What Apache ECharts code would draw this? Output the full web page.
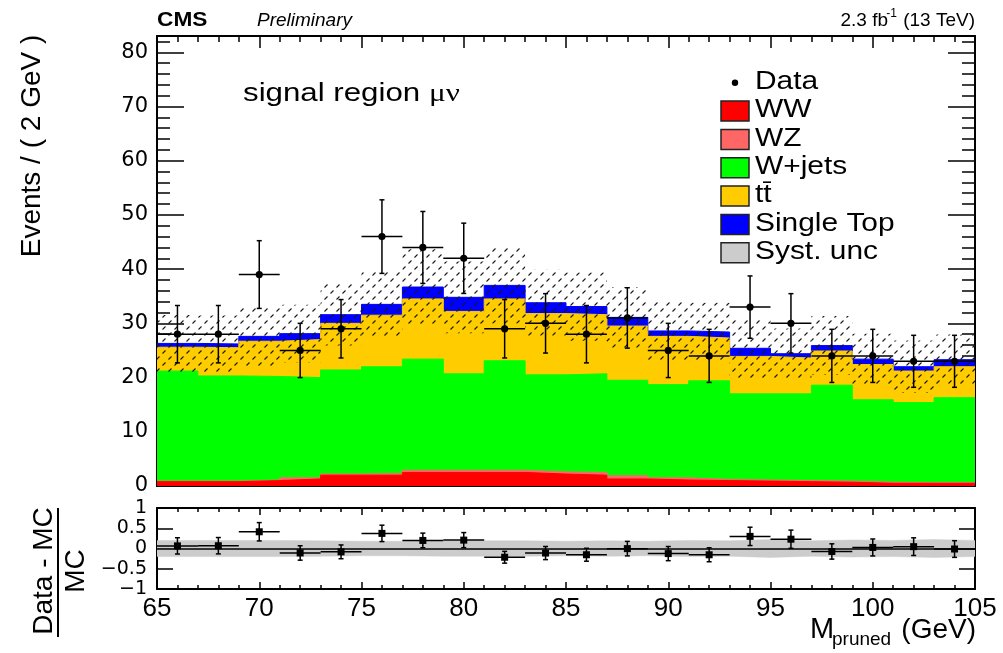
<!DOCTYPE html>
<html>
<head>
<meta charset="utf-8">
<script src="https://cdn.jsdelivr.net/npm/echarts@6/dist/echarts.min.js"></script>
<style>
  html, body { margin: 0; padding: 0; background: #fff; }
  #chart { width: 1003px; height: 653px; }
</style>
</head>
<body>
<div id="chart"></div>
<script>
// bins of M_pruned (GeV)
const binEdges = [65, 67, 69, 71, 73, 75, 77, 79, 81, 83, 85, 87, 89, 91, 93, 95, 97, 99, 101, 103, 105];

// observed events per bin
const dataCounts = [28, 28, 39, 25, 29, 46, 44, 42, 29, 30, 28, 31, 25, 24, 33, 30, 24, 24, 23, 23];

// MC backgrounds per bin
const wwYield = [0.8, 0.8, 1.0, 1.3, 2.0, 2.0, 2.5, 2.5, 2.5, 2.2, 2.0, 1.3, 1.1, 1.0, 0.9, 0.8, 0.7, 0.5, 0.5, 0.5];
const wzYield = [0.1, 0.1, 0.1, 0.2, 0.2, 0.3, 0.4, 0.4, 0.4, 0.4, 0.5, 0.6, 0.4, 0.2, 0.2, 0.2, 0.2, 0.2, 0.1, 0.1];
const wjetsYield = [20.3, 19.4, 19.1, 18.5, 19.2, 19.7, 20.5, 17.8, 20.2, 17.9, 18.2, 17.6, 17.2, 18.2, 15.9, 16.0, 17.7, 15.2, 14.8, 15.7];
const ttbarYield = [4.4, 5.2, 6.5, 7.0, 8.6, 9.5, 11.1, 11.5, 11.4, 11.3, 10.9, 10.0, 8.9, 7.9, 6.9, 6.6, 6.3, 6.5, 5.8, 5.7];
const singleTopYield = [0.7, 0.7, 0.9, 1.1, 1.6, 2.0, 2.2, 2.6, 2.5, 2.0, 1.5, 1.6, 1.0, 1.1, 1.5, 0.8, 1.0, 1.0, 0.8, 1.3];

// relative systematic uncertainty of the total MC
const systRel = [0.20, 0.20, 0.20, 0.19, 0.18, 0.18, 0.19, 0.19, 0.19, 0.18, 0.19, 0.18, 0.20, 0.19, 0.22, 0.19, 0.21, 0.20, 0.22, 0.20];

const legendLabels = ['WW', 'WZ', 'W+jets', 'tt\u0304', 'Single Top', 'Syst. unc'];
const legendColors = ['#ff0000', '#ff6666', '#00ff00', '#ffcc00', '#0000ff', '#cccccc'];

// ---- derived ----
const nBins = dataCounts.length;
const binCenters = binEdges.slice(0, -1).map((e, i) => (e + binEdges[i + 1]) / 2);

const layers = [wwYield, wzYield, wjetsYield, ttbarYield, singleTopYield];
const cumulative = [];
let running = new Array(nBins).fill(0);
layers.forEach((l) => {
  running = running.map((v, i) => v + l[i]);
  cumulative.push(running.slice());
});
const mcTotal = cumulative[cumulative.length - 1];

const stepPoints = (vals) => binEdges.map((e, i) => [e, vals[Math.min(i, vals.length - 1)]]);

// hatch pattern for the syst band
const hatch = document.createElement('canvas');
hatch.width = 12;
hatch.height = 12;
{
  const ctx = hatch.getContext('2d');
  ctx.strokeStyle = '#1a1a1a';
  ctx.lineWidth = 1.1;
  ctx.beginPath();
  ctx.moveTo(0.5, 11.5); ctx.lineTo(3.5, 8.5);
  ctx.moveTo(6.5, 5.5); ctx.lineTo(9.5, 2.5);
  ctx.stroke();
}

const FONT = 'Liberation Sans, Arial, Helvetica, sans-serif';
const BLACK = '#000';

function areaSeries(name, vals, color) {
  return {
    name, type: 'line', xAxisIndex: 0, yAxisIndex: 0, step: 'end',
    data: stepPoints(vals), symbol: 'none', showSymbol: false,
    lineStyle: { color, width: 1 }, itemStyle: { color },
    areaStyle: { color, opacity: 1 }, z: 1, silent: true,
  };
}

// points with x/y error bars
function errorRender(marker) {
  return (params, api) => {
    const x = api.value(0), y = api.value(1), e = api.value(2);
    const lo = api.value(3), hi = api.value(4);
    const c = api.coord([x, y]);
    const l = api.coord([lo, y]), r = api.coord([hi, y]);
    const t = api.coord([x, y + e]), b = api.coord([x, y - e]);
    const ls = { stroke: BLACK, lineWidth: 1.5 };
    const cap = 2.5;
    const children = [
      { type: 'line', shape: { x1: l[0], y1: c[1], x2: r[0], y2: c[1] }, style: ls },
      { type: 'line', shape: { x1: c[0], y1: t[1], x2: c[0], y2: b[1] }, style: ls },
      { type: 'line', shape: { x1: c[0] - cap, y1: t[1], x2: c[0] + cap, y2: t[1] }, style: ls },
      { type: 'line', shape: { x1: c[0] - cap, y1: b[1], x2: c[0] + cap, y2: b[1] }, style: ls },
    ];
    if (marker === 'circle') {
      children.push({ type: 'circle', shape: { cx: c[0], cy: c[1], r: 3.6 }, style: { fill: BLACK } });
    } else {
      children.push({ type: 'rect', shape: { x: c[0] - 3.5, y: c[1] - 3.5, width: 7, height: 7 }, style: { fill: BLACK } });
    }
    return { type: 'group', children };
  };
}

const tickStyle = { color: BLACK, width: 1.5 };
const lineStyle = { color: BLACK, width: 2 };

function xAxis(grid, position, labels, major, minor) {
  return {
    gridIndex: grid, type: 'value', position, min: 65, max: 105, interval: 5,
    axisLine: { onZero: false, lineStyle },
    axisTick: { inside: true, length: major, lineStyle: tickStyle },
    minorTick: { show: true, splitNumber: 5, length: minor, lineStyle: tickStyle },
    axisLabel: labels
      ? { show: true, fontFamily: 'Liberation Sans Narrow, ' + FONT, fontSize: 26, color: BLACK, margin: 7 }
      : { show: false },
    splitLine: { show: false },
  };
}

const chart = echarts.init(document.getElementById('chart'), null, { renderer: 'canvas' });

const ratioVals = binCenters.map((c, i) => [
  c, dataCounts[i] / mcTotal[i] - 1, Math.sqrt(dataCounts[i]) / mcTotal[i], binEdges[i], binEdges[i + 1],
]);

const rowY = (i) => 82.7 + 28.35 * i;

const option = {
  animation: false,
  backgroundColor: '#fff',
  grid: [
    { left: 157, top: 36, width: 818, height: 450, outerBoundsMode: 'none' },
    { left: 157, top: 508, width: 818, height: 81, outerBoundsMode: 'none' },
  ],
  xAxis: [
    xAxis(0, 'bottom', false, 12, 6),
    xAxis(0, 'top', false, 12, 6),
    xAxis(1, 'bottom', true, 7, 4),
    xAxis(1, 'top', false, 7, 4),
  ],
  yAxis: [
    {
      gridIndex: 0, type: 'value', position: 'left', min: 0, max: 83, interval: 10,
      axisLine: { onZero: false, lineStyle },
      axisTick: { inside: true, length: 27, lineStyle: tickStyle },
      minorTick: { show: true, splitNumber: 5, length: 13, lineStyle: tickStyle },
      axisLabel: {
        fontFamily: 'DejaVu Sans', fontSize: 21, color: BLACK, margin: 9,
        formatter: (v) => (v % 10 === 0 ? String(v) : ''),
      },
      splitLine: { show: false },
    },
    {
      gridIndex: 0, type: 'value', position: 'right', min: 0, max: 83, interval: 10,
      axisLine: { onZero: false, lineStyle },
      axisTick: { inside: true, length: 27, lineStyle: tickStyle },
      minorTick: { show: true, splitNumber: 5, length: 13, lineStyle: tickStyle },
      axisLabel: { show: false },
      splitLine: { show: false },
    },
    {
      gridIndex: 1, type: 'value', position: 'left', min: -1, max: 1, interval: 0.5,
      axisLine: { onZero: false, lineStyle },
      axisTick: { inside: true, length: 16, lineStyle: tickStyle },
      axisLabel: {
        fontFamily: 'DejaVu Sans', fontSize: 19, color: BLACK, margin: 10,
        formatter: (v) => (v < 0 ? '\u2212' + Math.abs(v) : String(v)),
      },
      splitLine: { show: false },
    },
    {
      gridIndex: 1, type: 'value', position: 'right', min: -1, max: 1, interval: 0.5,
      axisLine: { onZero: false, lineStyle },
      axisTick: { inside: true, length: 16, lineStyle: tickStyle },
      axisLabel: { show: false },
      splitLine: { show: false },
    },
  ],
  series: [
    areaSeries('Single Top', cumulative[4], legendColors[4]),
    areaSeries('tt\u0304', cumulative[3], legendColors[3]),
    areaSeries('W+jets', cumulative[2], legendColors[2]),
    areaSeries('WZ', cumulative[1], legendColors[1]),
    areaSeries('WW', cumulative[0], legendColors[0]),
    {
      name: 'Syst. unc', type: 'custom', xAxisIndex: 0, yAxisIndex: 0, z: 3, silent: true,
      encode: { x: [0, 1], y: [2, 3] },
      data: binCenters.map((c, i) => [binEdges[i], binEdges[i + 1], mcTotal[i] * (1 - systRel[i]), mcTotal[i] * (1 + systRel[i])]),
      renderItem: (params, api) => {
        const p0 = api.coord([api.value(0), api.value(3)]);
        const p1 = api.coord([api.value(1), api.value(2)]);
        return {
          type: 'rect',
          shape: { x: p0[0], y: p0[1], width: p1[0] - p0[0], height: p1[1] - p0[1] },
          style: { fill: { image: hatch, repeat: 'repeat' } },
        };
      },
    },
    {
      name: 'Data', type: 'custom', xAxisIndex: 0, yAxisIndex: 0, z: 5, silent: true,
      encode: { x: 0, y: 1 },
      data: binCenters.map((c, i) => [c, dataCounts[i], Math.sqrt(dataCounts[i]), binEdges[i], binEdges[i + 1]]),
      renderItem: errorRender('circle'),
    },
    // ratio panel: syst band (fills to 0 from both sides)
    {
      name: 'Syst. unc', type: 'line', xAxisIndex: 2, yAxisIndex: 2, step: 'end',
      data: stepPoints(systRel), symbol: 'none', showSymbol: false, z: 1, silent: true,
      lineStyle: { color: '#cccccc', width: 0.5 }, areaStyle: { color: '#cccccc', opacity: 1 },
    },
    {
      name: 'Syst. unc', type: 'line', xAxisIndex: 2, yAxisIndex: 2, step: 'end',
      data: stepPoints(systRel.map((s) => -s)), symbol: 'none', showSymbol: false, z: 1, silent: true,
      lineStyle: { color: '#cccccc', width: 0.5 }, areaStyle: { color: '#cccccc', opacity: 1 },
    },
    {
      name: 'Data / MC', type: 'custom', xAxisIndex: 2, yAxisIndex: 2, z: 5, silent: true,
      encode: { x: 0, y: 1 },
      data: ratioVals,
      renderItem: errorRender('square'),
      markLine: {
        silent: true, symbol: ['none', 'none'], label: { show: false },
        lineStyle: { color: BLACK, width: 1.5, type: 'solid' },
        data: [{ yAxis: 0 }],
      },
    },
  ],
  graphic: [
    // header
    { type: 'text', x: 157, y: 20, scaleX: 1.08, style: { text: 'CMS', fontFamily: FONT, fontWeight: 'bold', fontSize: 21, fill: BLACK, verticalAlign: 'middle' } },
    { type: 'text', x: 257, y: 21, style: { text: 'Preliminary', fontFamily: FONT, fontStyle: 'italic', fontSize: 19, fill: BLACK, verticalAlign: 'middle' } },
    { type: 'text', x: 975, y: 21, style: { text: '(13 TeV)', fontFamily: FONT, fontSize: 19, fill: BLACK, align: 'right', verticalAlign: 'middle' } },
    { type: 'text', x: 897, y: 14, style: { text: '-1', fontFamily: FONT, fontSize: 12, fill: BLACK, align: 'right', verticalAlign: 'middle' } },
    { type: 'text', x: 888, y: 21, style: { text: '2.3 fb', fontFamily: FONT, fontSize: 19, fill: BLACK, align: 'right', verticalAlign: 'middle' } },
    // region label
    {
      type: 'text', x: 243, y: 94, scaleX: 1.25,
      style: {
        text: 'signal region {g|\u03bc\u03bd}', fontFamily: FONT, fontSize: 25, fill: BLACK, verticalAlign: 'middle',
        rich: { g: { fontFamily: 'Liberation Serif, DejaVu Serif, serif', fontSize: 25, fill: BLACK } },
      },
    },
    // axis titles
    { type: 'text', x: 32, y: 146, rotation: Math.PI / 2, style: { text: 'Events / ( 2 GeV )', fontFamily: FONT, fontSize: 28, fill: BLACK, align: 'center', verticalAlign: 'middle' } },
    { type: 'text', x: 44, y: 571, rotation: Math.PI / 2, style: { text: 'Data - MC', fontFamily: FONT, fontSize: 28, fill: BLACK, align: 'center', verticalAlign: 'middle' } },
    { type: 'text', x: 76, y: 571, rotation: Math.PI / 2, style: { text: 'MC', fontFamily: FONT, fontSize: 28, fill: BLACK, align: 'center', verticalAlign: 'middle' } },
    { type: 'line', shape: { x1: 58, y1: 508, x2: 58, y2: 637 }, style: { stroke: BLACK, lineWidth: 2 } },
    { type: 'text', x: 810, y: 630, style: { text: 'M', fontFamily: FONT, fontSize: 29, fill: BLACK, verticalAlign: 'middle' } },
    { type: 'text', x: 832, y: 640, style: { text: 'pruned', fontFamily: FONT, fontSize: 19, fill: BLACK, verticalAlign: 'middle' } },
    { type: 'text', x: 976, y: 630, style: { text: '(GeV)', fontFamily: FONT, fontSize: 28, fill: BLACK, align: 'right', verticalAlign: 'middle' } },
    // legend
    { type: 'circle', shape: { cx: 735, cy: rowY(0), r: 3.2 }, style: { fill: BLACK } },
    { type: 'text', x: 755, y: rowY(0) - 1, scaleX: 1.15, style: { text: 'Data', fontFamily: FONT, fontSize: 26, fill: BLACK, verticalAlign: 'middle' } },
    ...legendLabels.flatMap((name, i) => [
      { type: 'rect', shape: { x: 721, y: rowY(i + 1) - 10, width: 28, height: 20 }, style: { fill: legendColors[i], stroke: '#222', lineWidth: 1.5 } },
      { type: 'text', x: 755, y: rowY(i + 1) - 1, scaleX: 1.15, style: { text: name, fontFamily: FONT, fontSize: 26, fill: BLACK, verticalAlign: 'middle' } },
    ]),
  ],
};

chart.setOption(option);
window.addEventListener('resize', () => chart.resize());
</script>
</body>
</html>
